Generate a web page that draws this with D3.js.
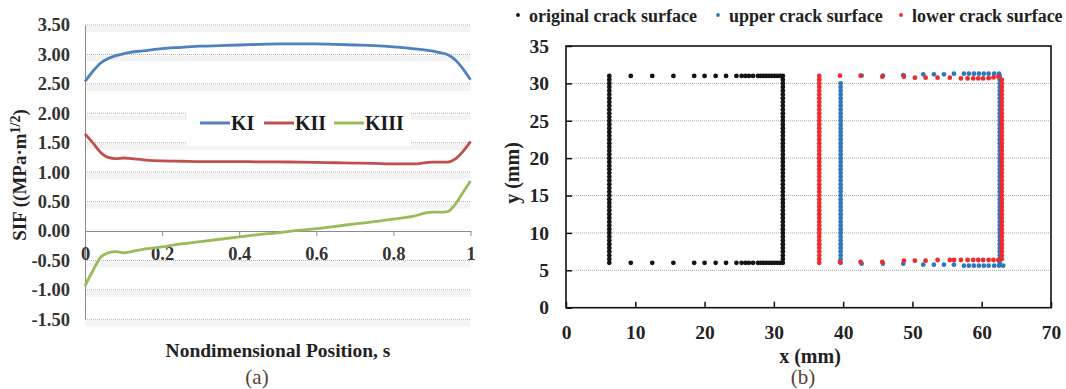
<!DOCTYPE html>
<html>
<head>
<meta charset="utf-8">
<script src="https://cdn.jsdelivr.net/npm/d3@7"></script>
<style>
  body { margin: 0; background: #fff; }
  svg { display: block; }
  text { font-family: "Liberation Serif", "DejaVu Serif", serif; }
</style>
</head>
<body>
<svg id="chart" width="1066" height="389"></svg>
<script>
// ---- (a) stress intensity factors along the crack front ----
var sPos = [0, 0.02, 0.04, 0.06, 0.08, 0.1, 0.12, 0.15, 0.2, 0.25, 0.3, 0.35, 0.4, 0.45,
            0.5, 0.55, 0.6, 0.65, 0.7, 0.75, 0.8, 0.85, 0.9, 0.92, 0.94, 0.96, 0.98, 1.0];
var kI   = [2.54, 2.71, 2.85, 2.93, 2.98, 3.01, 3.04, 3.06, 3.10, 3.12, 3.14, 3.15, 3.16, 3.17,
            3.18, 3.18, 3.18, 3.17, 3.16, 3.15, 3.13, 3.10, 3.06, 3.03, 3.00, 2.91, 2.76, 2.57];
var kII  = [1.65, 1.50, 1.34, 1.25, 1.23, 1.24, 1.23, 1.21, 1.19, 1.185, 1.18, 1.18, 1.18, 1.175,
            1.175, 1.17, 1.165, 1.16, 1.155, 1.15, 1.14, 1.14, 1.17, 1.17, 1.17, 1.22, 1.35, 1.52];
var kIII = [-0.93, -0.68, -0.45, -0.37, -0.35, -0.37, -0.35, -0.31, -0.27, -0.22, -0.18, -0.14, -0.10, -0.06,
            -0.03, 0.01, 0.04, 0.08, 0.12, 0.16, 0.20, 0.25, 0.32, 0.32, 0.33, 0.45, 0.65, 0.85];
var sifTicks = [-1.5, -1.0, -0.5, 0, 0.5, 1.0, 1.5, 2.0, 2.5, 3.0, 3.5];
var sTicks = [0, 0.2, 0.4, 0.6, 0.8, 1];
var sifSeries = [
  { name: "KI",   values: kI,   color: "#4f81bd" },
  { name: "KII",  values: kII,  color: "#c0504d" },
  { name: "KIII", values: kIII, color: "#9bbb59" }
];

// ---- (b) crack surface points (mm) ----
var colY = [6.0, 6.5, 7.0, 7.5, 8.0, 8.5, 9.0, 9.5, 10.0, 10.5, 11.0, 11.5, 12.0, 12.5, 13.0, 13.5,
            14.0, 14.5, 15.0, 15.5, 16.0, 16.5, 17.0, 17.5, 18.0, 18.5, 19.0, 19.5, 20.0, 20.5, 21.0,
            21.5, 22.0, 22.5, 23.0, 23.5, 24.0, 24.5, 25.0, 25.5, 26.0, 26.5, 27.0, 27.5, 28.0, 28.5,
            29.0, 29.5, 30.0, 30.5, 31.0];
var origColX = [6.25, 31.3];
var origRowX = [9.35, 12.45, 15.5, 18.5, 20.0, 21.6, 23.1, 24.6, 25.35, 25.9, 26.4, 27.0, 27.7,
                28.1, 28.5, 28.9, 29.3, 29.7, 30.1, 30.5, 30.9];
var origRowY = [6.0, 31.0];

var upperColX = [39.64, 62.6];
var upperTopX = [42.67, 45.74, 48.68, 51.56, 53.1, 54.55, 55.99, 57.43, 58.15, 58.87, 59.6, 60.3, 61.0, 61.8, 62.5];
var upperTopY = [31.03, 31.03, 31.1, 31.21, 31.21, 31.21, 31.3, 31.3, 31.3, 31.3, 31.3, 31.3, 31.3, 31.3, 31.3];
var upperBotX = [42.67, 45.74, 48.68, 51.56, 53.1, 54.55, 55.99, 57.43, 58.15, 58.87, 59.6, 60.3, 61.0, 61.8, 62.5, 63.1];
var upperBotY = [5.89, 5.89, 5.89, 5.75, 5.75, 5.75, 5.75, 5.62, 5.62, 5.62, 5.62, 5.62, 5.62, 5.62, 5.62, 5.62];

var lowerColX = [36.55, 62.9];
var lowerTopX = [39.54, 42.52, 45.65, 48.77, 50.36, 51.9, 53.63, 55.4, 57.0, 57.96, 58.78, 59.5, 60.2, 61.0, 61.7, 62.4];
var lowerTopY = [31.03, 31.03, 30.9, 30.9, 30.76, 30.76, 30.76, 30.76, 30.67, 30.67, 30.67, 30.67, 30.67, 30.7, 30.8, 30.9];
var lowerBotX = [39.54, 42.52, 45.65, 48.77, 50.36, 51.9, 53.63, 55.4, 56.0, 57.0, 57.96, 58.78, 59.5, 60.2, 61.0, 61.7, 62.4];
var lowerBotY = [6.11, 6.11, 6.11, 6.29, 6.29, 6.29, 6.38, 6.38, 6.38, 6.38, 6.38, 6.38, 6.38, 6.38, 6.38, 6.38, 6.38];

var mmTicksX = [0, 10, 20, 30, 40, 50, 60, 70];
var mmTicksY = [0, 5, 10, 15, 20, 25, 30, 35];
var gridY = [5, 10, 15, 20, 25, 30];

var svg = d3.select("#chart");

// ================= panel (a) =================
var xa = d3.scaleLinear().domain([0, 1]).range([85, 470.5]);
var ya = d3.scaleLinear().domain([-1.5, 3.5]).range([319.3, 25]);
var ga = svg.append("g");

// gridlines with the faint shadow band under them
sifTicks.filter(function(v) { return v !== 0; }).forEach(function(v) {
  ga.append("rect")
    .attr("x", xa(0)).attr("y", ya(v) + 1)
    .attr("width", xa(1) - xa(0)).attr("height", 6)
    .attr("fill", "#f3f3f3");
  ga.append("line")
    .attr("x1", xa(0)).attr("x2", xa(1))
    .attr("y1", ya(v)).attr("y2", ya(v))
    .attr("stroke", "#b0b0b0").attr("stroke-width", 1)
    .attr("stroke-dasharray", "1,1");
});

var yAxisA = ga.append("g")
  .attr("transform", "translate(" + xa(0) + ",0)")
  .call(d3.axisLeft(ya).tickValues(sifTicks).tickSize(0).tickPadding(15)
    .tickFormat(function(d) { return d.toFixed(2); }));
yAxisA.select(".domain").attr("stroke", "#8c8c8c");
yAxisA.selectAll("text")
  .attr("font-weight", "bold").attr("font-size", 18.5).attr("fill", "#333");

var xAxisA = ga.append("g")
  .attr("transform", "translate(0," + ya(0) + ")")
  .call(d3.axisBottom(xa).tickValues(sTicks).tickSize(5).tickSizeOuter(0).tickPadding(11)
    .tickFormat(function(d) { return String(d); }));
xAxisA.select(".domain").attr("stroke", "#8c8c8c");
xAxisA.selectAll(".tick line").attr("stroke", "#8c8c8c");
xAxisA.selectAll("text")
  .attr("font-weight", "bold").attr("font-size", 18.5).attr("fill", "#333");

var line = d3.line()
  .x(function(d, i) { return xa(sPos[i]); })
  .y(function(d) { return ya(d); })
  .curve(d3.curveMonotoneX);

sifSeries.forEach(function(s) {
  ga.append("path")
    .datum(s.values)
    .attr("fill", "none")
    .attr("stroke", s.color)
    .attr("stroke-width", 2.8)
    .attr("stroke-linejoin", "round")
    .attr("d", line);
});

// legend box
var lg = ga.append("g");
lg.append("rect").attr("x", 187).attr("y", 108).attr("width", 224).attr("height", 38).attr("fill", "#fff");
var legX = [200, 264, 334];
sifSeries.forEach(function(s, i) {
  lg.append("line")
    .attr("x1", legX[i]).attr("x2", legX[i] + 30)
    .attr("y1", 123).attr("y2", 123)
    .attr("stroke", s.color).attr("stroke-width", 3);
  lg.append("text")
    .attr("x", legX[i] + 31).attr("y", 129.5)
    .attr("font-size", 20).attr("font-weight", "bold").attr("fill", "#1a1a1a")
    .text(s.name);
});

// axis titles
var yTitle = ga.append("text")
  .attr("transform", "translate(26,175) rotate(-90)")
  .attr("text-anchor", "middle")
  .attr("font-size", 19).attr("font-weight", "bold").attr("fill", "#222");
yTitle.append("tspan").text("SIF ((MPa\u00b7m");
yTitle.append("tspan").attr("font-size", 14).attr("dy", -6).text("1/2");
yTitle.append("tspan").attr("dy", 6).text(")");

ga.append("text")
  .attr("x", 278).attr("y", 357)
  .attr("text-anchor", "middle")
  .attr("font-size", 19.5).attr("font-weight", "bold").attr("fill", "#222")
  .text("Nondimensional Position, s");

ga.append("text")
  .attr("x", 257).attr("y", 384)
  .attr("text-anchor", "middle")
  .attr("font-size", 21).attr("fill", "#5a4038")
  .text("(a)");

// ================= panel (b) =================
var xb = d3.scaleLinear().domain([0, 70]).range([566, 1051]);
var yb = d3.scaleLinear().domain([0, 35]).range([307.7, 46]);
var gb = svg.append("g");

gridY.forEach(function(v) {
  gb.append("line")
    .attr("x1", xb(0)).attr("x2", xb(70))
    .attr("y1", yb(v)).attr("y2", yb(v))
    .attr("stroke", "#a8a8a8").attr("stroke-width", 1)
    .attr("stroke-dasharray", "1,1");
});

var xAxisB = gb.append("g")
  .attr("transform", "translate(0," + yb(0) + ")")
  .call(d3.axisBottom(xb).tickValues(mmTicksX).tickSizeInner(-6).tickSizeOuter(0).tickPadding(17));
var yAxisB = gb.append("g")
  .attr("transform", "translate(" + xb(0) + ",0)")
  .call(d3.axisLeft(yb).tickValues(mmTicksY).tickSizeInner(-6).tickSizeOuter(0).tickPadding(17));
[xAxisB, yAxisB].forEach(function(a) {
  a.select(".domain").remove();
  a.selectAll(".tick line").attr("stroke", "#111").attr("stroke-width", 1.5);
  a.selectAll("text")
    .attr("font-weight", "bold").attr("font-size", 19.5).attr("fill", "#222");
});

gb.append("rect")
  .attr("x", xb(0)).attr("y", yb(35))
  .attr("width", xb(70) - xb(0)).attr("height", yb(0) - yb(35))
  .attr("fill", "none").attr("stroke", "#111").attr("stroke-width", 1.6);

// build point sets from the arrays
function column(xs, ys) {
  var pts = [];
  xs.forEach(function(x) { ys.forEach(function(y) { pts.push([x, y]); }); });
  return pts;
}
function row(xs, ys) {
  return xs.map(function(x, i) { return [x, ys[i]]; });
}

var originalPts = column(origColX, colY)
  .concat(column(origRowX, origRowY));
var upperPts = column([upperColX[0]], colY.filter(function(y) { return y <= 30.3; }))
  .concat(column([upperColX[1]], colY.filter(function(y) { return y >= 6.0 && y <= 31.0; })))
  .concat(row(upperTopX, upperTopY))
  .concat(row(upperBotX, upperBotY));
var lowerPts = column([lowerColX[0]], colY)
  .concat(column([lowerColX[1]], colY.filter(function(y) { return y >= 6.2 && y <= 30.8; })))
  .concat(row(lowerTopX, lowerTopY))
  .concat(row(lowerBotX, lowerBotY));

var pointSets = [
  { name: "original crack surface", pts: originalPts, color: "#141414" },
  { name: "upper crack surface",    pts: upperPts,    color: "#2f78bd" },
  { name: "lower crack surface",    pts: lowerPts,    color: "#ef2b2d" }
];

pointSets.forEach(function(set) {
  gb.append("g").selectAll("circle")
    .data(set.pts)
    .enter().append("circle")
    .attr("cx", function(d) { return xb(d[0]); })
    .attr("cy", function(d) { return yb(d[1]); })
    .attr("r", 2.4)
    .attr("fill", set.color);
});

// legend on top
var legBX = [518, 718, 901];
pointSets.forEach(function(set, i) {
  gb.append("circle").attr("cx", legBX[i]).attr("cy", 15).attr("r", 1.9).attr("fill", set.color);
  gb.append("text")
    .attr("x", legBX[i] + 11).attr("y", 21.5)
    .attr("font-size", 18).attr("font-weight", "bold").attr("fill", "#222")
    .text(set.name);
});

gb.append("text")
  .attr("transform", "translate(519,173) rotate(-90)")
  .attr("text-anchor", "middle")
  .attr("font-size", 20).attr("font-weight", "bold").attr("fill", "#222")
  .text("y (mm)");

gb.append("text")
  .attr("x", 810).attr("y", 363)
  .attr("text-anchor", "middle")
  .attr("font-size", 20).attr("font-weight", "bold").attr("fill", "#222")
  .text("x (mm)");

gb.append("text")
  .attr("x", 803).attr("y", 384)
  .attr("text-anchor", "middle")
  .attr("font-size", 21).attr("fill", "#5a4038")
  .text("(b)");
</script>
</body>
</html>
